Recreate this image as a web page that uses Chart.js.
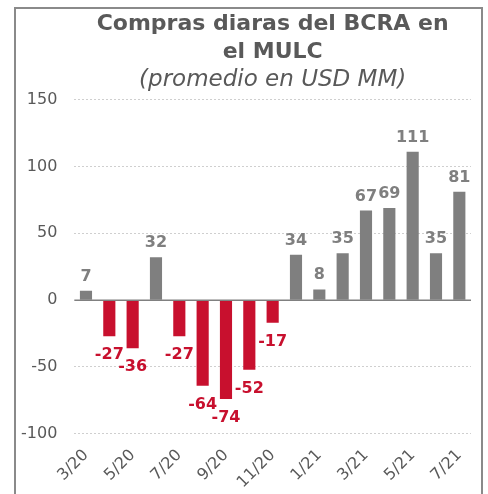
<!DOCTYPE html>
<html>
<head>
<meta charset="utf-8">
<script src="https://cdn.jsdelivr.net/npm/chart.js@4.4.1/dist/chart.umd.min.js"></script>
<style>
  html, body { margin: 0; padding: 0; background: #ffffff; }
  #wrap { position: relative; width: 488px; height: 494px; overflow: hidden; }
  #frame { position: absolute; left: 14px; top: 7px; width: 469px; height: 520px; border: 2px solid #8a8a8a; box-sizing: border-box; }
  #c { position: absolute; left: 0; top: 0; }
</style>
</head>
<body>
<div id="wrap">
  <div id="frame"></div>
  <canvas id="c" width="488" height="496"></canvas>
</div>
<script>
const titleLines = ['Compras diaras del BCRA en', 'el MULC'];
const subtitleText = '(promedio en USD MM)';
const categories = ['3/20','4/20','5/20','6/20','7/20','8/20','9/20','10/20','11/20','12/20','1/21','2/21','3/21','4/21','5/21','6/21','7/21'];
const values = [7, -27, -36, 32, -27, -64, -74, -52, -17, 34, 8, 35, 67, 69, 111, 35, 81];
const yMin = -100;
const yMax = 150;
const yStep = 50;

const FONT = "'DejaVu Sans', Verdana, sans-serif";
const GRAY = '#7f7f7f';
const RED = '#c8102e';
const TEXT = '#595959';

const labelPlugin = {
  id: 'barLabels',
  afterDatasetsDraw(chart) {
    const ctx = chart.ctx;
    const meta = chart.getDatasetMeta(0);
    ctx.save();
    ctx.font = 'bold 16px ' + FONT;
    ctx.textAlign = 'center';
    ctx.textBaseline = 'alphabetic';
    meta.data.forEach((bar, i) => {
      const v = values[i];
      if (v >= 0) {
        ctx.fillStyle = GRAY;
        ctx.fillText(String(v), bar.x, bar.y - 10);
      } else {
        ctx.fillStyle = RED;
        ctx.fillText(String(v), bar.x, bar.y + 23);
      }
    });
    ctx.restore();
  }
};

const zeroLinePlugin = {
  id: 'zeroLine',
  afterDatasetsDraw(chart) {
    const y = chart.scales.y.getPixelForValue(0);
    const a = chart.chartArea;
    const ctx = chart.ctx;
    ctx.save();
    ctx.strokeStyle = '#808080';
    ctx.lineWidth = 1.5;
    ctx.beginPath();
    ctx.moveTo(a.left, y);
    ctx.lineTo(a.right, y);
    ctx.stroke();
    ctx.restore();
  }
};

new Chart(document.getElementById('c'), {
  type: 'bar',
  data: {
    labels: categories,
    datasets: [{
      data: values,
      backgroundColor: values.map(v => v >= 0 ? GRAY : RED),
      borderWidth: 0,
      categoryPercentage: 1.0,
      barPercentage: 0.52
    }]
  },
  options: {
    responsive: false,
    animation: false,
    devicePixelRatio: 1,
    layout: { padding: { left: 4, right: 17, top: 0, bottom: 0 } },
    plugins: {
      legend: { display: false },
      tooltip: { enabled: false },
      title: {
        display: true,
        text: titleLines,
        color: TEXT,
        fullSize: false,
        font: { family: FONT, size: 22, weight: 'bold', lineHeight: 1.25 },
        padding: { top: 11, bottom: 0 }
      },
      subtitle: {
        display: true,
        text: subtitleText,
        color: TEXT,
        fullSize: false,
        font: { family: FONT, size: 23, style: 'italic', weight: 'normal', lineHeight: 1.2 },
        padding: { top: 0, bottom: 6 }
      }
    },
    scales: {
      x: {
        grid: { display: false },
        border: { display: false },
        ticks: {
          color: TEXT,
          font: { family: FONT, size: 16 },
          minRotation: 45,
          maxRotation: 45,
          autoSkip: false,
          padding: 4,
          callback: function(val, idx) { return idx % 2 === 0 ? categories[idx] : ''; }
        }
      },
      y: {
        min: yMin,
        max: yMax,
        border: { display: false, dash: [2, 2] },
        grid: {
          drawTicks: false,
          lineWidth: 1,
          color: ctx => (ctx.tick && ctx.tick.value === 0) ? 'rgba(0,0,0,0)' : '#cfcfcf'
        },
        ticks: {
          stepSize: yStep,
          color: TEXT,
          font: { family: FONT, size: 16 },
          padding: 17
        }
      }
    }
  },
  plugins: [labelPlugin, zeroLinePlugin]
});
</script>
</body>
</html>
